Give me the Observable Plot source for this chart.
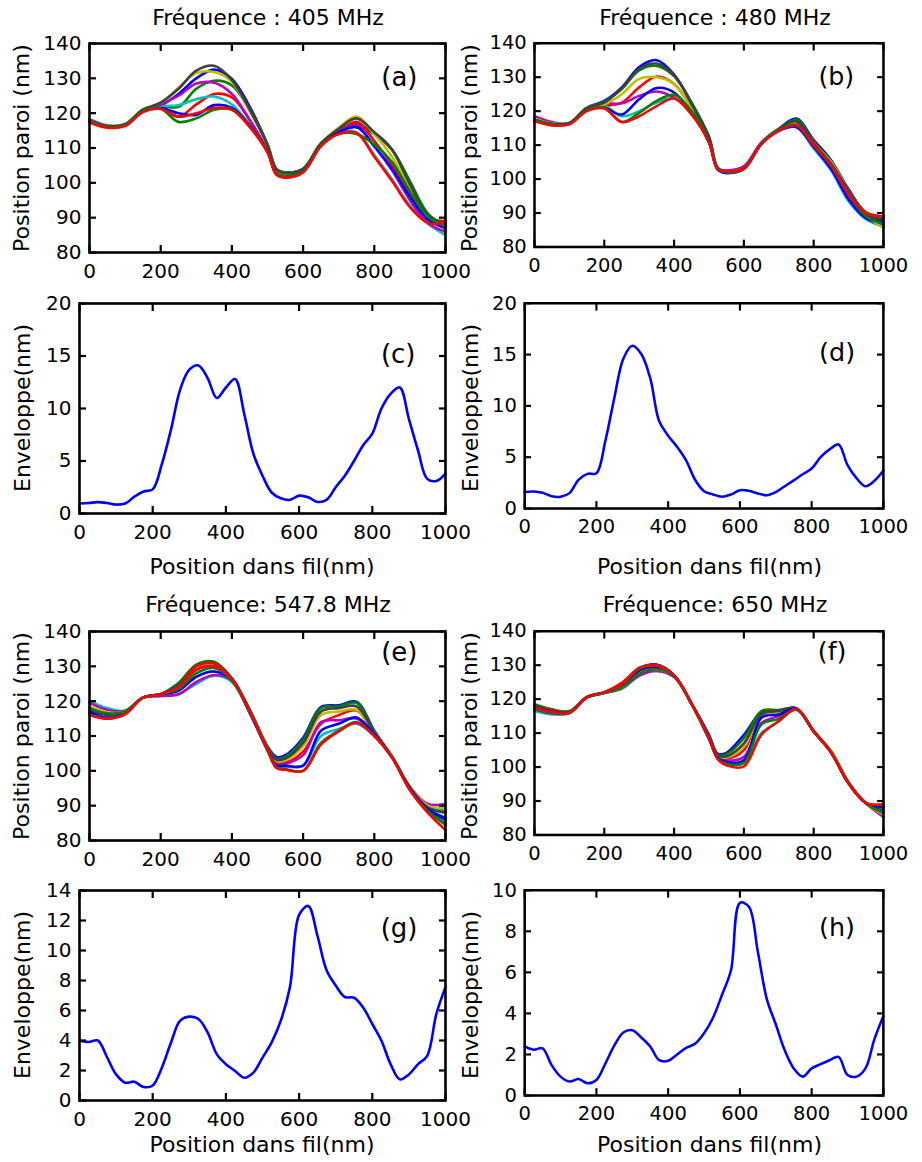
<!DOCTYPE html>
<html><head><meta charset="utf-8">
<script src="https://cdn.jsdelivr.net/npm/d3@7"></script>
<script src="https://cdn.jsdelivr.net/npm/@observablehq/plot@0.6"></script>
<style>
body{margin:0;background:#fff;font-family:"DejaVu Sans",sans-serif;}
#root{position:relative;width:922px;height:1162px;overflow:hidden;background:#fff;}
.lbl{position:absolute;font-size:22px;color:#000;white-space:nowrap;line-height:1;font-family:"DejaVu Sans",sans-serif;}
.panel{position:absolute;}
</style></head><body><div id="root"></div>
<script>
// ---- shared x grids ----
const xsP = [0,50,100,150,200,250,300,350,400,450,500,525,550,600,650,700,750,800,850,900,950,1000];
const xs25 = [0,25,50,75,100,125,150,175,200,225,250,275,300,325,350,375,400,425,450,475,500,525,550,575,600,625,650,675,700,725,750,775,800,825,850,875,900,925,950,975,1000];
const xTicks = [0,200,400,600,800,1000];
const paroiTicks = [80,90,100,110,120,130,140];

// series colors (b, g, r, c, m, y, k, b, g, r)
const serieColors = ["#0000ff","#008000","#ff0000","#00bfbf","#bf00bf","#bfbf00","#404040","#0000ff","#008000","#ff0000"];

// ---- (a) 405 MHz : position paroi ----
const paroiA = [
 [117.8,116.2,116.7,120.8,122.2,125.5,130,132.5,129.8,121.8,111,104,103,104,111.3,115,116,114.3,109.5,100,91,87.5],
 [117.8,116.2,116.7,120.8,122,121.8,127,129.3,128,121,111,104,103,104,111.3,115,117,114,109.5,100.5,91.2,87.5],
 [117.5,116,116.5,120.5,121.5,119,122.5,125.5,124.5,118,109,102.8,102,103.5,110.8,114.5,117.5,112,105,96.5,90,89],
 [118,116.2,116.7,120.8,122,122.3,124,124.8,122.5,116.5,108.8,102.5,101.8,103.3,110.8,114.5,114.5,108,101,93.5,88.3,85],
 [118.3,116.5,116.8,121,122.5,125,128.5,128.7,125.5,118,109.3,102.5,101.8,103.5,110.8,114.5,116.5,110.5,103.5,95,88.5,86],
 [118,116.4,116.8,121,123,127.3,131.5,131.8,129,120.5,110.8,103.8,102.8,104,111.3,115.8,119,114,107.5,98.5,90,87],
 [118,116.3,116.8,121,123,127,132.2,133.6,129.5,121,110.8,103.8,102.8,104,111.3,115.5,118.5,114.5,109.5,99.5,91,88],
 [117.8,116.2,116.7,120.8,121.5,120,119.5,122.3,121.5,116.5,109,102.5,101.8,103.3,110.8,114.5,116,110.5,104,96,89.5,87],
 [117.8,116.2,116.7,120.8,121.3,117.5,118.5,121,121,116.3,109,102.7,102,103.3,110.8,114,114,111,106,97.5,90.5,87.5],
 [117.3,115.8,116.3,120.3,121.2,119,120,121.5,121,116,108.8,102.3,101.5,103,110.5,114,114.3,107.5,100.5,93,88.5,88.5]
];
// ---- (b) 480 MHz ----
const paroiB = [
 [117.5,116.2,116.5,121,123,127,133,135,130.8,122.5,112.5,103.3,101.8,103.3,110.5,114.8,117.8,111.5,105.5,97,90,88],
 [117.3,116,116.3,120.8,122.8,126.5,132,133.3,130.3,122.5,112.3,103.3,102.2,103.3,110.5,114.6,117.5,111,105,96.5,90,87.5],
 [117.2,116,116.3,120.5,121.5,122.5,127,130.2,128,121,111.5,103.2,102.4,103.4,110.5,114.5,116.5,111,104.5,96,90.2,89],
 [117.3,116,116.3,120.5,121.5,118.5,120,122.5,123.8,119,110.8,102.8,102,103.3,110.5,114.6,115.3,109,102.5,93.5,88.2,86],
 [118.5,116.8,116.5,120.5,122.3,122.3,124.5,125.8,124,119.5,111,103,102.5,103.8,110.8,114.6,115.5,109.5,103,94.5,88.5,86.5],
 [117.8,116.4,116.5,121,122,125,129.5,130,128,121,111.5,103.2,102.3,103.3,110.5,114.8,116.5,110.5,105,96.5,89.5,85.5],
 [117.5,116.2,116.5,121,122.5,126.8,132.5,134,130.5,122,112,103.2,102.3,103.3,110.5,114.8,117,110.5,104.5,96.5,89.8,87],
 [117.5,116.2,116.3,120.3,121,119,123.5,126.8,125.5,119.5,110.8,102.8,101.8,103,110.3,114.2,115.3,109.5,103,94,88.5,87.5],
 [117.5,116.2,116.3,120.3,121,116.8,119.5,123,124.8,120,111,103,102,103,110.5,114.5,116,110,104,95.5,89,86.8],
 [117,115.8,116.1,120,120.8,116.8,118.5,121.5,123.7,119,110.8,103,102.3,103,110.3,114.2,115.8,110,104,95.5,90,89]
];
// ---- (e) 547.8 MHz ----
const paroiE = [
 [117,115.2,116.5,121,122,125,130.2,131,126.5,117.5,107,104,104.5,109.5,118.3,118.8,119.8,111.5,104,95,89,86],
 [116.5,115,116.5,121,122,125.2,130.5,131.3,126.5,117.5,107,103.5,104,109,118,118.5,119.5,111.3,104,94.8,88.5,85],
 [116,115,116.3,121,122,124.5,130,130.8,126.5,117.3,106.5,102.3,102.3,105.5,113.5,116,117.3,111,104,95,89.5,88.5],
 [120,118,117.3,121,121.5,122,125,127.3,125.5,116.5,105.8,101.5,101.2,101.5,110,112,113.5,110,103.8,95.2,90,88.8],
 [119.5,117.5,117.2,121,121.5,122,125.5,127.5,126,116.8,106,101.8,102,104.5,114,114.5,115,110.5,103.8,95.5,90.5,90.5],
 [118.5,116.8,117,121,122,123.5,127,128.5,126,117,106.5,102.8,103,107,116,117,117.5,111,104.2,95.5,90,89.5],
 [117.5,116,116.8,121,122,124.5,129,130,126.5,117,106.5,103.2,103.5,108,117,118,118.5,111,104,95.2,89.5,88],
 [117,115.2,116.5,121,122,123,127,128.5,126,116.8,106,101.6,101.5,101.5,111.5,113.5,115.3,110.5,104,95,89,86.5],
 [118,116.5,117,121,122,123.5,128,129.5,126,117,106,101,100.5,100,108,111.5,114,110,103.8,94.5,88.5,84.5],
 [116,115,116.3,121,122,124,129,130,126.3,117,106,100.8,100.3,100,107.5,111.3,113.8,110,103.8,94.5,88,83]
];
// ---- (f) 650 MHz ----
const paroiF = [
 [118,116.5,116.2,120.6,122,124.5,129,130.2,127,118.7,109.5,104,104.2,109.5,116,116.5,117.3,110.5,104.3,95.2,89.4,88],
 [118.5,117,116.5,120.6,122,124.5,129.3,130,127,118.7,109.3,103.8,103.8,108.5,116.5,116.8,117.3,110.5,104.3,95.2,89.4,87],
 [118,116.8,116.2,120.6,122,124.8,129,130,127,118.7,109,103.3,102.5,105,115.5,116.5,117.3,110.5,104.3,95.2,89.4,89],
 [116.5,115.5,115.8,120.4,121.8,123,126.8,128.3,126.5,118.5,108,102.7,101.3,101.5,110,113.5,116.8,110.5,104.5,95.5,89.3,86],
 [117,115.8,116,120.5,121.8,123.2,127,128.3,126.5,118.5,108.3,103,102,103,113,115,117,110.6,104.5,95.5,89.3,85.3],
 [117.5,116.2,116,120.5,122,123.5,128,128.8,126.8,118.6,108.8,103.3,102.8,106,115,116.2,117.2,110.7,104.8,95.6,89.4,86],
 [118,116.5,116.2,120.6,122,124,128.5,129.3,126.8,118.7,109,103.5,103.2,107,115.5,116.5,117.3,110.6,104.5,95.4,89.4,87],
 [117.5,116.2,116,120.5,122,124,128.5,129.5,127,118.7,108.8,102.8,101.5,102,114.5,115.5,117.2,110.5,104.3,95.2,89.4,88.3],
 [117,116,116,120.5,121.8,123.5,127.5,128.8,126.8,118.5,108.5,102.5,101,101.2,112.5,114.2,117,110.5,104.3,95.2,89.3,86.5],
 [117.5,116.2,116,120.5,122,124.3,129,129.8,127,118.7,108.5,102.3,100.5,100.2,109.5,113.5,117.1,110.5,104.3,95.2,89.4,89]
];

// ---- envelopes ----
const envC = [0.95,1.0,1.08,1.0,0.85,0.95,1.6,2.1,2.3,4.7,8.0,11.8,13.7,14.1,12.9,11.0,12.0,12.8,9.5,5.7,3.6,2.0,1.45,1.3,1.7,1.55,1.1,1.3,2.5,3.6,5.0,6.5,7.6,10.0,11.4,12.0,9.0,6.0,3.3,3.1,3.8];
const envD = [1.6,1.66,1.53,1.2,1.15,1.5,2.8,3.38,3.44,6.6,10.8,14.6,15.86,15.06,12.7,8.5,7.1,6.0,4.7,2.8,1.69,1.37,1.15,1.37,1.78,1.72,1.46,1.3,1.6,2.17,2.74,3.34,3.9,5.0,5.76,6.24,4.23,2.96,2.17,2.7,3.7];
const envG = [4.0,3.9,4.0,2.9,1.74,1.19,1.25,0.9,1.0,2.19,3.87,5.32,5.59,5.43,4.54,3.09,2.42,1.97,1.52,1.86,2.86,3.87,5.32,7.56,12.37,12.97,11.0,8.68,7.67,6.9,6.85,6.2,5.1,3.98,2.42,1.41,1.74,2.42,2.98,5.77,7.56];
const envH = [2.39,2.23,2.3,1.48,0.92,0.68,0.8,0.6,0.76,1.56,2.44,3.07,3.18,2.83,2.39,1.72,1.69,2.0,2.32,2.52,3.03,3.79,4.9,6.1,9.39,9.2,7.0,4.7,3.47,2.2,1.32,0.92,1.32,1.53,1.72,1.88,1.0,0.92,1.32,2.75,3.87];

const titles = ["Fréquence : 405 MHz","Fréquence : 480 MHz","Fréquence: 547.8 MHz","Fréquence: 650 MHz"];
const labelParoi = "Position paroi (nm)";
const labelEnv = "Enveloppe(nm)";
const labelX = "Position dans fil(nm)";

const panels = [
 {tag:"(a)", L:89, R:445, T:43, B:252, yd:[80,140], yt:paroiTicks, multi:paroiA, tagDx:-28, tagDy:34, ylab:labelParoi, ylx:22},
 {tag:"(b)", L:536, R:894, T:43, B:252, yd:[80,140], yt:paroiTicks, multi:paroiB, tagDx:-30, tagDy:34, ylab:labelParoi, ylx:470},
 {tag:"(c)", L:79, R:445, T:303, B:513, yd:[0,20], yt:[0,5,10,15,20], env:envC, tagDx:-30, tagDy:51, ylab:labelEnv, ylx:23, xlab:567},
 {tag:"(d)", L:526, R:893, T:303, B:513, yd:[0,20], yt:[0,5,10,15,20], env:envD, tagDx:-29, tagDy:51, ylab:labelEnv, ylx:471, xlab:567},
 {tag:"(e)", L:89, R:445, T:631, B:840, yd:[80,140], yt:paroiTicks, multi:paroiE, tagDx:-28, tagDy:21, ylab:labelParoi, ylx:22},
 {tag:"(f)", L:536, R:894, T:631, B:840, yd:[80,140], yt:paroiTicks, multi:paroiF, tagDx:-38, tagDy:21, ylab:labelParoi, ylx:470},
 {tag:"(g)", L:79, R:445, T:890, B:1100, yd:[0,14], yt:[0,2,4,6,8,10,12,14], env:envG, tagDx:-28, tagDy:38, ylab:labelEnv, ylx:23, xlab:1145},
 {tag:"(h)", L:526, R:893, T:890, B:1100, yd:[0,10], yt:[0,2,4,6,8,10], env:envH, tagDx:-29, tagDy:38, ylab:labelEnv, ylx:471, xlab:1145}
];

const root = document.getElementById("root");
function addLabel(text, cx, cy, rotate, size) {
  const d = document.createElement("div");
  d.className = "lbl";
  d.textContent = text;
  d.style.left = cx + "px";
  d.style.top = cy + "px";
  d.style.fontSize = (size || 22) + "px";
  d.style.transform = "translate(-50%,-50%)" + (rotate ? " rotate(-90deg)" : "");
  root.appendChild(d);
}

const fmt = d => String(d);
const ML = 80, MR = 40, MT = 10, MB = 40;
for (const p of panels) {
  const lines = [];
  if (p.multi) {
    p.multi.forEach((vals, i) => {
      lines.push(Plot.line(vals, {x: (d, j) => xsP[j], y: d => d, stroke: serieColors[i], strokeWidth: 2.6, curve: "catmull-rom", strokeLinejoin: "round"}));
    });
  } else {
    lines.push(Plot.line(p.env, {x: (d, j) => xs25[j], y: d => d, stroke: "#0000ff", strokeWidth: 2.6, curve: "catmull-rom"}));
  }
  const chart = Plot.plot({
    width: (p.R - p.L) + ML + MR,
    height: (p.B - p.T) + MT + MB,
    marginLeft: ML, marginRight: MR, marginTop: MT, marginBottom: MB,
    x: {domain: [0, 1000]},
    y: {domain: p.yd},
    style: {background: "transparent", overflow: "visible", fontFamily: "DejaVu Sans, sans-serif", fontSize: "20px", color: "#000"},
    marks: [
      ...lines,
      Plot.frame({stroke: "#000", strokeWidth: 2.6}),
      Plot.axisX(xTicks, {anchor: "bottom", tickSize: -7, tickPadding: 18, strokeWidth: 2.2, label: null, fontSize: 20, tickFormat: fmt}),
      Plot.axisX(xTicks, {anchor: "top", tickSize: -7, tickFormat: () => "", strokeWidth: 2.2, label: null}),
      Plot.axisY(p.yt, {anchor: "left", tickSize: -7, tickPadding: 15, strokeWidth: 2.2, label: null, fontSize: 20, tickFormat: fmt}),
      Plot.axisY(p.yt, {anchor: "right", tickSize: -7, tickFormat: () => "", strokeWidth: 2.2, label: null}),
      Plot.text([p.tag], {frameAnchor: "top-right", dx: p.tagDx, dy: p.tagDy, textAnchor: "end", lineAnchor: "middle", fontSize: 26, fill: "#000"})
    ]
  });
  const wrap = document.createElement("div");
  wrap.className = "panel";
  wrap.style.left = (p.L - ML) + "px";
  wrap.style.top = (p.T - MT) + "px";
  wrap.appendChild(chart);
  root.appendChild(wrap);
  addLabel(p.ylab, p.ylx, (p.T + p.B) / 2, true);
  if (p.xlab) addLabel(labelX, (p.L + p.R) / 2, p.xlab, false);
}
addLabel(titles[0], 268, 18, false);
addLabel(titles[1], 715, 18, false);
addLabel(titles[2], 268, 605, false);
addLabel(titles[3], 715, 605, false);
</script></body></html>
